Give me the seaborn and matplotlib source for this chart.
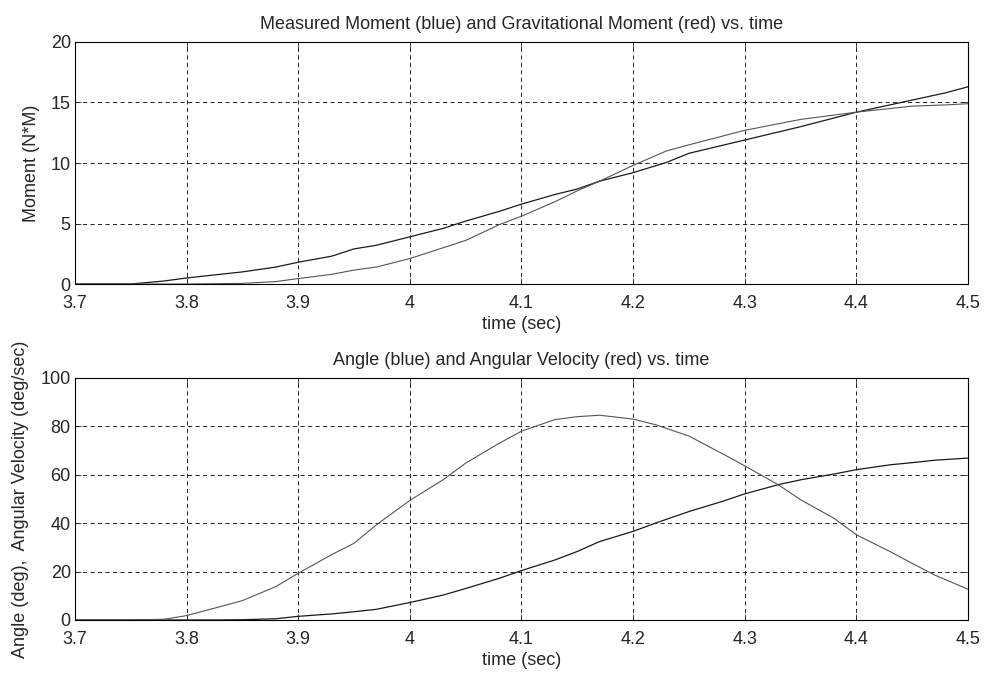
import numpy as np
import pandas as pd
import seaborn as sns
import matplotlib.pyplot as plt

# -----------------------------
# Data
# -----------------------------
t_moment = [3.70, 3.75, 3.78, 3.80, 3.85, 3.88, 3.90, 3.93, 3.95, 3.97, 4.00, 4.03, 4.05,
            4.08, 4.10, 4.13, 4.15, 4.17, 4.20, 4.23, 4.25, 4.30, 4.35, 4.40, 4.45, 4.48, 4.50]
measured_moment = [0, 0, 0.25, 0.5, 1.0, 1.4, 1.8, 2.3, 2.9, 3.2, 3.9, 4.6, 5.2,
                   6.0, 6.6, 7.4, 7.85, 8.5, 9.2, 10.05, 10.8, 11.9, 13.0, 14.2, 15.2, 15.8, 16.3]
grav_moment = [0, 0, 0, 0, 0.05, 0.2, 0.45, 0.8, 1.15, 1.4, 2.1, 3.0, 3.6,
               4.9, 5.6, 6.8, 7.7, 8.5, 9.8, 11.0, 11.5, 12.7, 13.6, 14.2, 14.7, 14.8, 14.9]

t_angle = [3.70, 3.75, 3.78, 3.80, 3.83, 3.85, 3.88, 3.90, 3.93, 3.95, 3.97, 4.00, 4.03, 4.05,
           4.08, 4.10, 4.13, 4.15, 4.17, 4.20, 4.22, 4.25, 4.28, 4.30, 4.33, 4.35, 4.38,
           4.40, 4.43, 4.45, 4.47, 4.50]
angle = [0, 0, 0, 0, 0, 0.1, 0.5, 1.5, 2.5, 3.4, 4.4, 7.2, 10.3, 13.0,
         17.2, 20.4, 24.8, 28.3, 32.4, 36.6, 40.0, 44.8, 49.0, 52.1, 55.9, 57.9, 60.3,
         62.1, 64.1, 65.0, 66.0, 66.9]
ang_velocity = [0, 0, 0.3, 1.8, 5.5, 8.0, 13.8, 19.3, 27.0, 31.7, 39.3, 49.4, 58.0, 64.8,
                73.0, 78.0, 82.8, 84.0, 84.6, 83.0, 80.7, 76.0, 68.7, 63.7, 55.9, 49.7, 42.0,
                35.2, 28.3, 23.4, 18.6, 12.7]

x_ticks = [3.7, 3.8, 3.9, 4.0, 4.1, 4.2, 4.3, 4.4, 4.5]
x_tick_labels = ["3.7", "3.8", "3.9", "4", "4.1", "4.2", "4.3", "4.4", "4.5"]

# -----------------------------
# Style
# -----------------------------
sns.set_style("ticks")
plt.rcParams["font.family"] = ["Liberation Sans", "DejaVu Sans"]
plt.rcParams["xtick.direction"] = "in"
plt.rcParams["ytick.direction"] = "in"

SOLID = "#1a1a1a"
LIGHT = "#555555"
FS = 13

fig = plt.figure(figsize=(9.85, 6.73), dpi=100)
ax1 = fig.add_axes([0.0761, 0.578, 0.9066, 0.3596])
ax2 = fig.add_axes([0.0761, 0.0788, 0.9066, 0.3596])

moment_df = pd.DataFrame({"t": t_moment, "measured": measured_moment, "grav": grav_moment})
angle_df = pd.DataFrame({"t": t_angle, "angle": angle, "vel": ang_velocity})

sns.lineplot(data=moment_df, x="t", y="measured", ax=ax1, color=SOLID, lw=0.9)
sns.lineplot(data=moment_df, x="t", y="grav", ax=ax1, color=LIGHT, lw=0.8)
sns.lineplot(data=angle_df, x="t", y="angle", ax=ax2, color=SOLID, lw=0.9)
sns.lineplot(data=angle_df, x="t", y="vel", ax=ax2, color=LIGHT, lw=0.8)


def matlab_axes(ax, ylim, yticks, title, ylabel):
    ax.set_xlim(3.7, 4.5)
    ax.set_ylim(*ylim)
    ax.set_xticks(x_ticks)
    ax.set_xticklabels(x_tick_labels)
    ax.set_yticks(yticks)
    ax.tick_params(labelsize=FS, length=4, width=0.6, top=True, right=True)
    ax.tick_params(axis="x", pad=8)
    ax.tick_params(axis="y", pad=3)
    ax.grid(True, color="black", lw=0.6, linestyle=(0, (5, 4)))
    for s in ax.spines.values():
        s.set_visible(True)
        s.set_linewidth(0.8)
        s.set_color("black")
    ax.set_title(title, fontsize=FS, pad=9)
    ax.set_xlabel("time (sec)", fontsize=FS, labelpad=3)
    ax.set_ylabel(ylabel, fontsize=FS, labelpad=8)


matlab_axes(ax1, (0, 20), [0, 5, 10, 15, 20],
            "Measured Moment (blue) and Gravitational Moment (red) vs. time", "Moment (N*M)")
matlab_axes(ax2, (0, 100), [0, 20, 40, 60, 80, 100],
            "Angle (blue) and Angular Velocity (red) vs. time",
            "Angle (deg),  Angular Velocity (deg/sec)")

plt.savefig("out.png", dpi=100)
